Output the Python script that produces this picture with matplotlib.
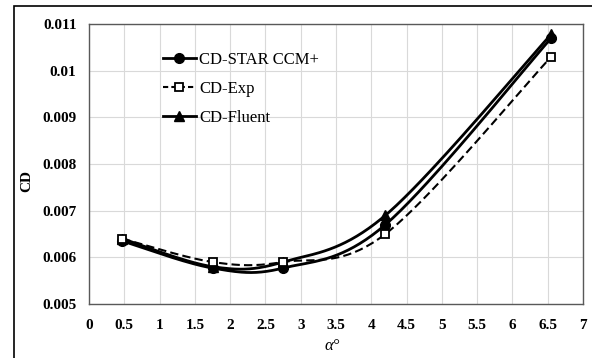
import numpy as np
import matplotlib
matplotlib.use("Agg")
import matplotlib.pyplot as plt
from matplotlib.lines import Line2D
from matplotlib.patches import Rectangle

alpha = [0.47, 1.75, 2.75, 4.2, 6.55]
cd_star = [0.00635, 0.00577, 0.00577, 0.00670, 0.01070]
cd_exp = [0.00640, 0.00590, 0.00590, 0.00650, 0.01030]
cd_fluent = [0.00640, 0.00580, 0.00590, 0.00690, 0.01078]

series_names = ["CD-STAR CCM+", "CD-Exp", "CD-Fluent"]
xticks = [0, 0.5, 1, 1.5, 2, 2.5, 3, 3.5, 4, 4.5, 5, 5.5, 6, 6.5, 7]
yticks = [0.005, 0.006, 0.007, 0.008, 0.009, 0.01, 0.011]
ytick_labels = ["0.005", "0.006", "0.007", "0.008", "0.009", "0.01", "0.011"]


def smooth(x, y, n=40):
    # Excel-style smoothed line: cubic Bezier with Catmull-Rom control points
    x = np.asarray(x, float)
    y = np.asarray(y, float)
    px, py = [], []
    for i in range(len(x) - 1):
        x0, y0 = (x[i - 1], y[i - 1]) if i > 0 else (x[i], y[i])
        x3, y3 = (x[i + 2], y[i + 2]) if i + 2 < len(x) else (x[i + 1], y[i + 1])
        c1x = x[i] + (x[i + 1] - x0) / 6
        c1y = y[i] + (y[i + 1] - y0) / 6
        c2x = x[i + 1] - (x3 - x[i]) / 6
        c2y = y[i + 1] - (y3 - y[i]) / 6
        t = np.linspace(0, 1, n)
        bx = (1 - t) ** 3 * x[i] + 3 * (1 - t) ** 2 * t * c1x + 3 * (1 - t) * t ** 2 * c2x + t ** 3 * x[i + 1]
        by = (1 - t) ** 3 * y[i] + 3 * (1 - t) ** 2 * t * c1y + 3 * (1 - t) * t ** 2 * c2y + t ** 3 * y[i + 1]
        px.extend(bx)
        py.extend(by)
    return np.array(px), np.array(py)


plt.rcParams['font.family'] = ['Liberation Serif', 'DejaVu Serif']

fig = plt.figure(figsize=(5.92, 3.58), dpi=100)
ax = fig.add_axes([89 / 592, 1 - 304 / 358, (583 - 89) / 592, (304 - 24) / 358])

# outer chart frame
fig.patches.append(Rectangle((14 / 592, -0.1), 1.2, 1 - 6 / 358 + 0.1, transform=fig.transFigure,
                             fill=False, edgecolor='black', linewidth=1.2))

ax.set_xlim(0, 7)
ax.set_ylim(0.005, 0.011)
ax.set_xticks(xticks)
ax.set_xticklabels([f"{v:g}" for v in xticks], fontsize=11, fontweight='bold')
ax.set_yticks(yticks)
ax.set_yticklabels(ytick_labels, fontsize=11, fontweight='bold')
ax.tick_params(axis='x', length=0, pad=10.5)
ax.tick_params(axis='y', length=0, pad=9)
ax.grid(True, color='#d9d9d9', linewidth=0.8)
ax.set_axisbelow(True)
for s in ax.spines.values():
    s.set_color('#595959')
    s.set_linewidth(1.0)

sx, sy = smooth(alpha, cd_star)
ax.plot(sx, sy, color='black', linewidth=2.0, zorder=3)
ax.plot(alpha, cd_star, linestyle='none', marker='o', markersize=7, color='black', zorder=4)

ex, ey = smooth(alpha, cd_exp)
ax.plot(ex, ey, color='black', linewidth=1.5, linestyle=(0, (4, 2)), zorder=3)
ax.plot(alpha, cd_exp, linestyle='none', marker='s', markersize=6, markerfacecolor='white',
        markeredgecolor='black', markeredgewidth=1.3, zorder=5)

fx, fy = smooth(alpha, cd_fluent)
ax.plot(fx, fy, color='black', linewidth=2.0, zorder=3)
ax.plot(alpha, cd_fluent, linestyle='none', marker='^', markersize=7, color='black', zorder=4)

fig.text(27 / 592, 1 - 181 / 358, "CD", fontsize=11, fontweight='bold', rotation=90,
         ha='center', va='center')
fig.text(332 / 592, 1 - 346 / 358, "α°", fontsize=12, fontstyle='italic',
         ha='center', va='center')

handles = [
    Line2D([], [], color='black', linewidth=2.0, marker='o', markersize=7),
    Line2D([], [], color='black', linewidth=1.5, linestyle=(0, (2.5, 1.5)), marker='s', markersize=6,
           markerfacecolor='white', markeredgewidth=1.3),
    Line2D([], [], color='black', linewidth=2.0, marker='^', markersize=7),
]
leg = ax.legend(handles, series_names, loc='upper left', bbox_to_anchor=(0.149, 0.90), frameon=False,
                fontsize=12, handlelength=2.0, handletextpad=0.2, labelspacing=0.78,
                borderaxespad=0, borderpad=0)

fig.savefig("out.png", dpi=100)
